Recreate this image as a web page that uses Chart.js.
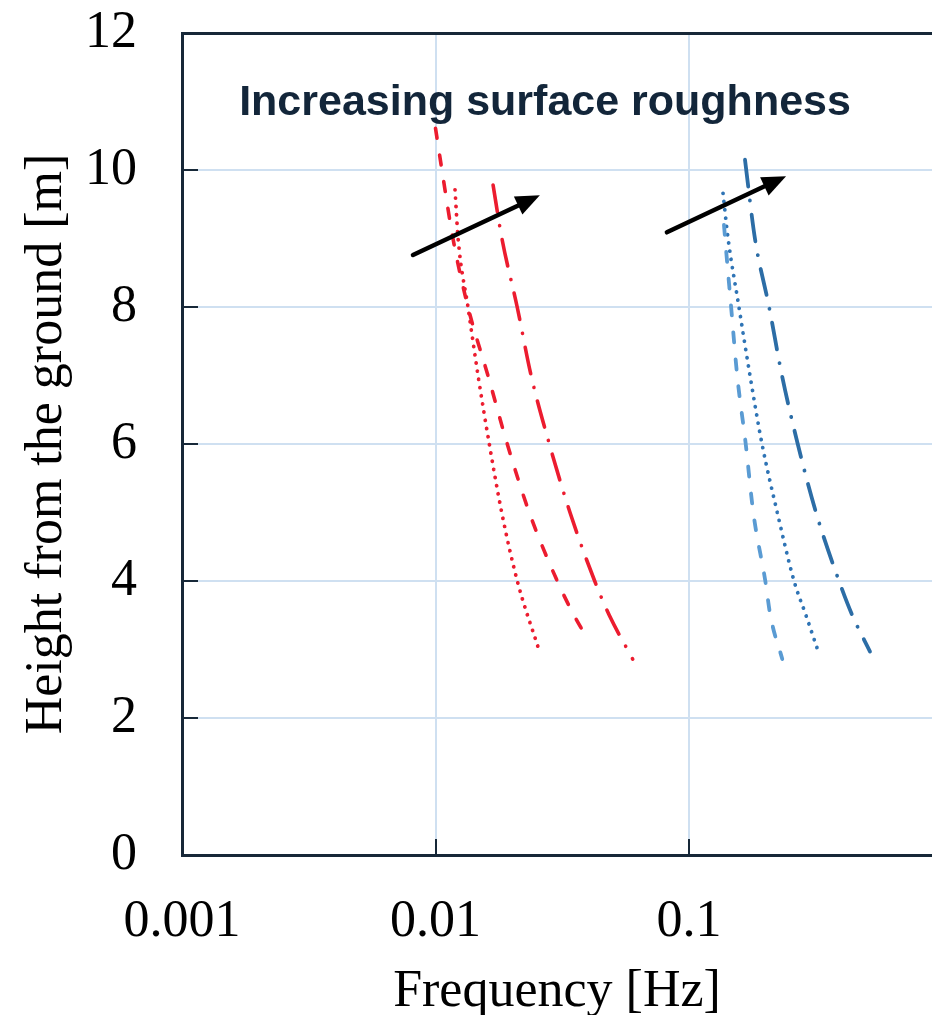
<!DOCTYPE html>
<html>
<head>
<meta charset="utf-8">
<script src="https://cdn.jsdelivr.net/npm/chart.js@4.4.1/dist/chart.umd.min.js"></script>
<style>
  html, body { margin: 0; padding: 0; background: #ffffff; overflow: hidden; }
  #wrap { width: 932px; height: 1015px; }
</style>
</head>
<body>
<div id="wrap"><canvas id="c" width="932" height="1015"></canvas></div>
<script>
// Frequency (Hz) along each curve, listed from the top of the curve downwards,
// with the matching height above ground (m).
const redDashedFreq   = [0.0100, 0.0106, 0.01172, 0.01343, 0.0161, 0.01919, 0.02344, 0.03022, 0.03518, 0.03985];
const redDashedH      = [10.61, 10, 9, 8, 7, 6, 5, 4, 3.5, 3.15];
const redDottedFreq   = [0.01194, 0.01228, 0.01343, 0.01472, 0.0163, 0.01825, 0.02102, 0.02561];
const redDottedH      = [9.71, 9, 8, 7, 6, 5, 4, 2.99];
const redDashDotFreq  = [0.01687, 0.01828, 0.0210, 0.02383, 0.02812, 0.03393, 0.04246, 0.04848, 0.05996];
const redDashDotH     = [9.78, 9, 8, 7, 6, 5, 4, 3.5, 2.86];

const blueDashedFreq  = [0.1374, 0.1388, 0.1466, 0.1549, 0.1674, 0.1793, 0.2000, 0.2093, 0.2333];
const blueDashedH     = [9.2, 9, 8, 7, 6, 5, 4, 3.5, 2.86];
const blueDottedFreq  = [0.1362, 0.1426, 0.1574, 0.174, 0.1941, 0.2230, 0.2596, 0.2893, 0.3228];
const blueDottedH     = [9.66, 9, 8, 7, 6, 5, 4, 3.5, 2.98];
const blueDashDotFreq = [0.1663, 0.182, 0.207, 0.2327, 0.2685, 0.3170, 0.3906, 0.4406, 0.5176];
const blueDashDotH    = [10.15, 9, 8, 7, 6, 5, 4, 3.5, 2.97];

// Axis ticks
const xTickValues = [0.001, 0.01, 0.1];
const xTickLabels = ['0.001', '0.01', '0.1'];
const yTickValues = [0, 2, 4, 6, 8, 10, 12];

// Roughness arrows: [frequency, height] of tail and tip
const redArrowFrom  = [0.00815, 8.76];
const redArrowTo    = [0.0258, 9.63];
const blueArrowFrom = [0.0818, 9.09];
const blueArrowTo   = [0.2415, 9.91];

// Annotation
const noteText = 'Increasing surface roughness';
const noteAt   = [0.02704, 10.98];

const RED = '#ec1c2f';
const BLUE_LIGHT = '#5a9bd3';
const BLUE_MID = '#2f74b5';
const BLUE_DARK = '#2c6da6';
const AXIS = '#172838';
const GRID = '#cfe0f1';
const SERIF = '"Liberation Serif", "Times New Roman", serif';

const pts = (f, h) => f.map((v, i) => ({ x: v, y: h[i] }));

function series(f, h, color, dash, width) {
  return {
    data: pts(f, h),
    borderColor: color,
    borderWidth: width,
    borderDash: dash,
    borderCapStyle: 'round',
    pointRadius: 0,
    cubicInterpolationMode: 'monotone',
    fill: false
  };
}

const DASH = [10, 17];
const DOT = [0.1, 8.2];
const DASHDOT = [27, 14, 0.1, 14];

const overlay = {
  id: 'overlay',
  afterDatasetsDraw(chart) {
    const { ctx, scales: { x, y }, chartArea } = chart;
    ctx.save();
    // inner tick marks
    ctx.strokeStyle = AXIS;
    ctx.lineWidth = 2;
    ctx.beginPath();
    yTickValues.forEach(v => {
      if (v === 0 || v === 12) return;
      const py = Math.round(y.getPixelForValue(v));
      ctx.moveTo(chartArea.left, py);
      ctx.lineTo(chartArea.left + 16, py);
    });
    xTickValues.forEach(v => {
      if (v === xTickValues[0]) return;
      const px = Math.round(x.getPixelForValue(v));
      ctx.moveTo(px, chartArea.bottom);
      ctx.lineTo(px, chartArea.bottom - 16);
    });
    ctx.stroke();

    // arrows
    const arrow = (from, to) => {
      const x0 = x.getPixelForValue(from[0]), y0 = y.getPixelForValue(from[1]);
      const x1 = x.getPixelForValue(to[0]),   y1 = y.getPixelForValue(to[1]);
      const ang = Math.atan2(y1 - y0, x1 - x0);
      const headLen = 24, headW = 10;
      const bx = x1 - headLen * Math.cos(ang), by = y1 - headLen * Math.sin(ang);
      ctx.strokeStyle = '#000';
      ctx.fillStyle = '#000';
      ctx.lineWidth = 4.5;
      ctx.lineCap = 'round';
      ctx.beginPath();
      ctx.moveTo(x0, y0);
      ctx.lineTo(bx + 2 * Math.cos(ang), by + 2 * Math.sin(ang));
      ctx.stroke();
      ctx.beginPath();
      ctx.moveTo(x1, y1);
      ctx.lineTo(bx + headW * Math.sin(ang), by - headW * Math.cos(ang));
      ctx.lineTo(bx - headW * Math.sin(ang), by + headW * Math.cos(ang));
      ctx.closePath();
      ctx.fill();
    };
    arrow(redArrowFrom, redArrowTo);
    arrow(blueArrowFrom, blueArrowTo);

    // annotation
    ctx.fillStyle = '#13263a';
    ctx.font = 'bold 43px "Liberation Sans", Arial, sans-serif';
    ctx.textAlign = 'center';
    ctx.textBaseline = 'middle';
    ctx.fillText(noteText, x.getPixelForValue(noteAt[0]), y.getPixelForValue(noteAt[1]));
    ctx.restore();
  }
};

new Chart(document.getElementById('c'), {
  type: 'line',
  data: {
    datasets: [
      series(redDashedFreq, redDashedH, RED, DASH, 3.6),
      series(redDottedFreq, redDottedH, RED, DOT, 3.8),
      series(redDashDotFreq, redDashDotH, RED, DASHDOT, 3.6),
      series(blueDashedFreq, blueDashedH, BLUE_LIGHT, DASH, 3.8),
      series(blueDottedFreq, blueDottedH, BLUE_MID, DOT, 3.8),
      series(blueDashDotFreq, blueDashDotH, BLUE_DARK, DASHDOT, 3.8)
    ]
  },
  options: {
    responsive: false,
    animation: false,
    devicePixelRatio: 1,
    layout: { padding: { top: 33, right: 0, left: 0, bottom: 0 } },
    plugins: { legend: { display: false }, tooltip: { enabled: false } },
    scales: {
      x: {
        type: 'logarithmic',
        min: 0.001,
        max: 0.909,
        afterBuildTicks: s => { s.ticks = xTickValues.map(v => ({ value: v })); },
        afterFit: s => { s.height = 160; s.paddingLeft = 0; s.paddingRight = 0; },
        ticks: {
          autoSkip: false,
          maxRotation: 0,
          padding: 36,
          color: '#000',
          font: { family: SERIF, size: 52 },
          callback: (v) => { const i = xTickValues.indexOf(v); return i >= 0 ? xTickLabels[i] : ''; }
        },
        grid: {
          drawTicks: false,
          color: c => (c.tick && c.tick.value === xTickValues[0]) ? 'rgba(0,0,0,0)' : GRID,
          lineWidth: 2
        },
        border: { color: AXIS, width: 3 },
        title: {
          display: true,
          text: 'Frequency [Hz]',
          color: '#000',
          font: { family: SERIF, size: 52 },
          padding: { top: 0, bottom: -9 }
        }
      },
      y: {
        min: 0,
        max: 12,
        afterBuildTicks: s => { s.ticks = yTickValues.map(v => ({ value: v })); },
        afterFit: s => { s.width = 182; s.paddingTop = 0; s.paddingBottom = 0; },
        ticks: {
          padding: 45,
          color: '#000',
          font: { family: SERIF, size: 52 }
        },
        grid: {
          drawTicks: false,
          color: c => {
            const v = c.tick ? c.tick.value : null;
            if (v === 12) return AXIS;
            if (v === 0) return 'rgba(0,0,0,0)';
            return GRID;
          },
          lineWidth: c => (c.tick && c.tick.value === 12) ? 3 : 2
        },
        border: { color: AXIS, width: 3 },
        title: {
          display: true,
          text: 'Height from the ground [m]',
          color: '#000',
          font: { family: SERIF, size: 52 },
          padding: { top: 16, bottom: 0 }
        }
      }
    }
  },
  plugins: [overlay]
});
</script>
</body>
</html>
